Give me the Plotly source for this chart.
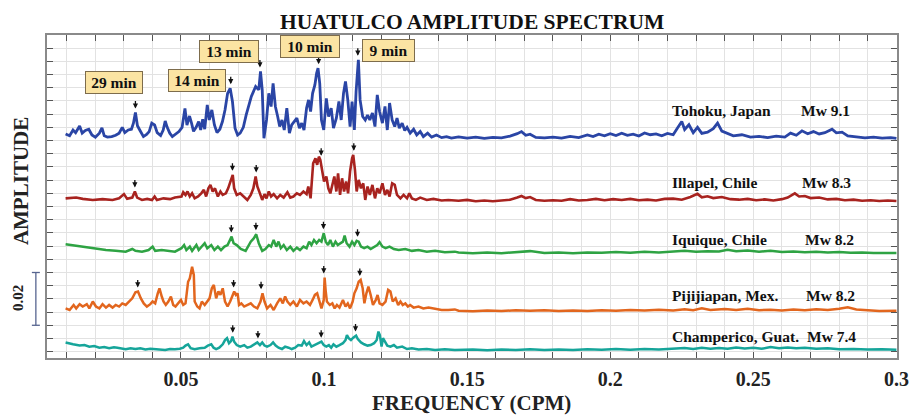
import plotly.graph_objects as go

# Amplitudes are listed in thousandths; each record is stacked on its own offset.
AMP_UNIT = 1e-3

# (frequency in CPM, amplitude x 1e-3)
TOHOKU = [
    (0.0097, 2.5), (0.0111, 1.8), (0.0123, 4.0), (0.0132, 3.0), (0.0146, 5.5), (0.0155, 2.8),
    (0.0166, 3.8), (0.0178, 4.3), (0.0189, 2.1), (0.0201, 1.3), (0.0215, 2.8), (0.0224, 4.8),
    (0.0232, 1.8), (0.0243, 1.3), (0.0258, 1.5), (0.0272, 2.0), (0.0284, 2.8), (0.0295, 5.0),
    (0.0304, 3.0), (0.0316, 4.0), (0.0327, 4.3), (0.0334, 6.6), (0.0341, 10.6), (0.0348, 5.6),
    (0.0357, 3.8), (0.0369, 1.5), (0.0380, 2.3), (0.0389, 3.4), (0.0398, 6.6), (0.0408, 5.9),
    (0.0417, 3.0), (0.0429, 1.9), (0.0438, 4.0), (0.0445, 7.4), (0.0452, 5.0), (0.0461, 2.8),
    (0.0470, 1.5), (0.0481, 2.5), (0.0493, 3.4), (0.0504, 5.0), (0.0514, 12.2), (0.0521, 5.9),
    (0.0530, 9.3), (0.0537, 6.6), (0.0544, 3.5), (0.0553, 5.0), (0.0562, 7.2), (0.0569, 4.0),
    (0.0576, 8.1), (0.0583, 4.3), (0.0592, 13.5), (0.0599, 7.8), (0.0608, 11.6), (0.0617, 5.9),
    (0.0626, 3.0), (0.0636, 4.3), (0.0645, 7.2), (0.0654, 11.6), (0.0663, 17.9), (0.0672, 19.8),
    (0.0680, 14.8), (0.0689, 4.7), (0.0698, 2.1), (0.0707, 2.8), (0.0718, 5.0), (0.0728, 9.7),
    (0.0737, 13.5), (0.0746, 16.7), (0.0761, 20.5), (0.0772, 19.2), (0.0778, 26.2), (0.0784, 19.2),
    (0.0790, 0.9), (0.0799, 7.8), (0.0807, 17.9), (0.0815, 12.9), (0.0822, 21.7), (0.0830, 12.9),
    (0.0838, 9.1), (0.0845, 5.3), (0.0853, 7.8), (0.0861, 4.0), (0.0870, 12.3), (0.0879, 2.8),
    (0.0887, 5.9), (0.0895, 7.2), (0.0905, 8.5), (0.0914, 4.7), (0.0922, 6.6), (0.0930, 4.0),
    (0.0939, 12.3), (0.0946, 15.4), (0.0953, 11.0), (0.0960, 17.9), (0.0968, 21.1), (0.0974, 25.5),
    (0.0979, 27.4), (0.0985, 21.7), (0.0991, 7.8), (0.0999, 4.0), (0.1008, 16.0), (0.1016, 9.1),
    (0.1025, 12.3), (0.1033, 4.7), (0.1043, 8.5), (0.1052, 14.8), (0.1060, 7.8), (0.1068, 17.9),
    (0.1075, 22.4), (0.1083, 15.4), (0.1091, 5.3), (0.1098, 14.8), (0.1106, 4.0), (0.1112, 18.6),
    (0.1120, 30.6), (0.1126, 15.4), (0.1135, 9.1), (0.1144, 7.8), (0.1152, 9.7), (0.1160, 7.8),
    (0.1169, 10.4), (0.1178, 5.3), (0.1186, 17.3), (0.1194, 11.0), (0.1204, 6.6), (0.1213, 12.9),
    (0.1221, 4.0), (0.1229, 14.2), (0.1238, 7.8), (0.1247, 5.3), (0.1255, 8.5), (0.1263, 4.7),
    (0.1273, 6.6), (0.1282, 3.8), (0.1290, 5.0), (0.1301, 2.8), (0.1313, 4.3), (0.1324, 2.1),
    (0.1336, 3.4), (0.1347, 1.5), (0.1362, 2.8), (0.1376, 1.3), (0.1393, 2.1), (0.1411, 1.1),
    (0.1428, 1.5), (0.1445, 0.9), (0.147, 1.4), (0.150, 0.9), (0.153, 1.3), (0.156, 0.8),
    (0.159, 1.2), (0.162, 1.0), (0.165, 1.7), (0.1675, 2.6), (0.169, 3.4), (0.1705, 2.0),
    (0.172, 2.4), (0.174, 1.2), (0.177, 1.0), (0.180, 1.3), (0.183, 0.9), (0.186, 1.6),
    (0.189, 1.1), (0.192, 2.1), (0.194, 1.5), (0.196, 2.4), (0.198, 1.8), (0.200, 2.6),
    (0.202, 1.9), (0.204, 2.8), (0.206, 2.0), (0.208, 2.4), (0.210, 1.7), (0.212, 2.9),
    (0.214, 2.2), (0.216, 2.5), (0.218, 1.8), (0.220, 2.7), (0.222, 2.2), (0.2235, 4.8),
    (0.225, 7.2), (0.226, 4.2), (0.2275, 6.0), (0.229, 3.0), (0.2305, 5.0), (0.232, 2.7),
    (0.234, 3.2), (0.236, 4.5), (0.2375, 6.6), (0.239, 3.6), (0.241, 2.8), (0.243, 1.8),
    (0.246, 2.2), (0.249, 1.3), (0.252, 1.6), (0.255, 1.1), (0.258, 1.7), (0.261, 1.3),
    (0.263, 2.8), (0.265, 2.0), (0.267, 3.7), (0.269, 2.6), (0.271, 3.4), (0.273, 2.5),
    (0.275, 3.0), (0.2775, 4.3), (0.279, 2.9), (0.281, 3.2), (0.283, 1.8), (0.286, 1.3),
    (0.289, 1.0), (0.292, 1.3), (0.295, 0.9), (0.298, 1.1), (0.300, 0.8),
]

ILLAPEL = [
    (0.0097, 2.1), (0.0134, 2.4), (0.0157, 1.9), (0.0192, 1.5), (0.0226, 1.8), (0.0261, 1.5),
    (0.0284, 2.1), (0.0301, 3.7), (0.0312, 1.9), (0.0330, 2.4), (0.0339, 4.7), (0.0347, 2.4),
    (0.0364, 1.5), (0.0382, 1.9), (0.0399, 1.5), (0.0408, 2.8), (0.0416, 1.5), (0.0439, 2.1),
    (0.0462, 1.8), (0.0479, 2.4), (0.0502, 2.8), (0.0508, 4.4), (0.0516, 3.4), (0.0523, 4.7),
    (0.0531, 2.8), (0.0539, 4.0), (0.0548, 2.1), (0.0560, 2.8), (0.0571, 4.0), (0.0580, 5.3),
    (0.0588, 2.8), (0.0596, 5.9), (0.0603, 7.2), (0.0611, 4.7), (0.0619, 5.9), (0.0629, 2.8),
    (0.0638, 4.7), (0.0646, 3.4), (0.0657, 4.0), (0.0665, 5.9), (0.0675, 9.1), (0.0681, 11.0),
    (0.0686, 5.9), (0.0695, 3.4), (0.0707, 4.0), (0.0721, 2.8), (0.0732, 1.5), (0.0744, 3.4),
    (0.0753, 5.9), (0.0761, 10.4), (0.0767, 6.6), (0.0776, 4.0), (0.0784, 1.5), (0.0792, 3.7),
    (0.0799, 2.1), (0.0807, 4.7), (0.0815, 2.8), (0.0824, 3.7), (0.0836, 2.1), (0.0847, 3.4),
    (0.0859, 2.4), (0.0872, 4.4), (0.0882, 2.4), (0.0893, 2.8), (0.0905, 4.0), (0.0916, 3.4),
    (0.0928, 4.7), (0.0939, 3.7), (0.0945, 6.6), (0.0953, 2.1), (0.0957, 8.5), (0.0962, 15.4),
    (0.0970, 17.3), (0.0976, 14.8), (0.0982, 17.9), (0.0987, 16.7), (0.0994, 12.3), (0.1000, 8.5),
    (0.1008, 10.4), (0.1015, 5.9), (0.1022, 4.0), (0.1029, 7.8), (0.1036, 10.4), (0.1043, 4.7),
    (0.1049, 11.6), (0.1056, 3.4), (0.1063, 9.7), (0.1070, 4.7), (0.1077, 8.5), (0.1084, 4.0),
    (0.1091, 12.3), (0.1098, 17.3), (0.1102, 18.6), (0.1108, 12.9), (0.1114, 4.7), (0.1121, 9.1),
    (0.1129, 5.9), (0.1137, 7.8), (0.1144, 1.5), (0.1152, 6.6), (0.1160, 3.4), (0.1169, 7.2),
    (0.1178, 2.1), (0.1186, 5.9), (0.1194, 4.0), (0.1204, 7.8), (0.1213, 3.4), (0.1221, 5.3),
    (0.1229, 2.8), (0.1238, 7.8), (0.1247, 7.2), (0.1255, 3.4), (0.1267, 2.1), (0.1278, 3.4),
    (0.1290, 2.1), (0.1298, 4.0), (0.1307, 2.1), (0.1321, 1.5), (0.1336, 2.4), (0.1359, 1.5),
    (0.1382, 1.9), (0.1411, 1.3), (0.1434, 1.5), (0.147, 1.2), (0.150, 1.5), (0.153, 1.0),
    (0.156, 1.3), (0.159, 1.0), (0.162, 1.4), (0.165, 1.6), (0.1675, 2.4), (0.169, 3.0),
    (0.1705, 2.2), (0.172, 2.6), (0.174, 1.5), (0.177, 1.2), (0.180, 1.4), (0.183, 1.2),
    (0.186, 1.8), (0.189, 1.3), (0.192, 1.5), (0.195, 1.9), (0.198, 1.4), (0.201, 1.8),
    (0.204, 1.5), (0.207, 1.9), (0.210, 1.4), (0.213, 1.6), (0.216, 1.3), (0.219, 1.9),
    (0.222, 2.0), (0.225, 1.6), (0.228, 2.6), (0.2305, 3.8), (0.232, 2.5), (0.234, 2.9),
    (0.236, 2.2), (0.239, 2.6), (0.242, 1.8), (0.245, 1.6), (0.248, 1.9), (0.251, 1.4),
    (0.254, 1.7), (0.257, 1.3), (0.260, 1.8), (0.262, 2.4), (0.2645, 4.0), (0.266, 2.8),
    (0.268, 3.0), (0.270, 2.2), (0.273, 2.4), (0.276, 1.7), (0.279, 1.9), (0.282, 1.4),
    (0.285, 1.6), (0.288, 1.2), (0.291, 1.4), (0.294, 1.1), (0.297, 1.3), (0.300, 1.1),
]

IQUIQUE = [
    (0.0097, 4.7), (0.0134, 4.1), (0.0169, 3.4), (0.0203, 2.9), (0.0238, 2.5), (0.0272, 2.2),
    (0.0307, 1.9), (0.0330, 2.9), (0.0341, 2.2), (0.0364, 1.9), (0.0387, 2.5), (0.0401, 3.8),
    (0.0410, 2.2), (0.0433, 2.5), (0.0456, 2.2), (0.0479, 1.9), (0.0502, 3.2), (0.0511, 4.4),
    (0.0519, 2.5), (0.0531, 3.8), (0.0539, 2.2), (0.0554, 4.4), (0.0562, 2.5), (0.0573, 3.8),
    (0.0583, 5.1), (0.0592, 3.2), (0.0606, 4.4), (0.0617, 2.5), (0.0629, 3.8), (0.0640, 2.5),
    (0.0652, 3.8), (0.0663, 4.4), (0.0672, 6.3), (0.0677, 7.6), (0.0684, 5.1), (0.0695, 4.4),
    (0.0709, 2.9), (0.0726, 2.2), (0.0744, 5.7), (0.0755, 7.0), (0.0763, 8.5), (0.0772, 5.1),
    (0.0784, 2.2), (0.0795, 2.9), (0.0807, 4.4), (0.0815, 3.8), (0.0824, 6.3), (0.0833, 3.8),
    (0.0841, 5.7), (0.0849, 3.2), (0.0859, 4.4), (0.0870, 2.5), (0.0882, 3.8), (0.0893, 2.2),
    (0.0905, 3.4), (0.0916, 2.5), (0.0928, 3.8), (0.0939, 3.2), (0.0948, 5.7), (0.0956, 4.4),
    (0.0965, 6.3), (0.0974, 5.1), (0.0983, 6.3), (0.0991, 5.7), (0.0999, 8.9), (0.1006, 5.7),
    (0.1014, 4.4), (0.1022, 6.3), (0.1031, 3.8), (0.1040, 5.7), (0.1048, 4.4), (0.1056, 5.1),
    (0.1066, 5.7), (0.1072, 8.0), (0.1079, 5.1), (0.1089, 3.8), (0.1098, 5.7), (0.1106, 4.4),
    (0.1114, 6.0), (0.1121, 5.7), (0.1129, 3.8), (0.1140, 3.2), (0.1152, 3.8), (0.1163, 2.9),
    (0.1175, 3.8), (0.1186, 4.4), (0.1194, 5.5), (0.1204, 3.8), (0.1215, 3.2), (0.1229, 3.8),
    (0.1244, 2.9), (0.1261, 2.5), (0.1284, 2.9), (0.1307, 2.2), (0.1330, 2.5), (0.1359, 1.9),
    (0.1388, 2.2), (0.1422, 1.7), (0.1457, 1.9), (0.147, 1.6), (0.152, 1.3), (0.157, 1.6),
    (0.162, 1.3), (0.167, 1.7), (0.172, 2.1), (0.177, 1.4), (0.182, 1.6), (0.187, 1.3),
    (0.192, 1.6), (0.197, 1.5), (0.202, 1.8), (0.207, 1.5), (0.212, 1.9), (0.217, 1.6),
    (0.222, 1.8), (0.226, 2.2), (0.230, 1.9), (0.234, 2.1), (0.238, 2.0), (0.241, 2.6),
    (0.244, 2.1), (0.248, 2.3), (0.252, 1.9), (0.256, 2.2), (0.260, 1.8), (0.264, 2.0),
    (0.268, 1.7), (0.272, 1.9), (0.276, 1.6), (0.280, 1.8), (0.284, 1.5), (0.288, 1.6),
    (0.292, 1.4), (0.296, 1.5), (0.300, 1.4),
]

PIJIJIAPAN = [
    (0.0097, 2.4), (0.0111, 1.8), (0.0125, 3.7), (0.0134, 2.4), (0.0146, 4.0), (0.0157, 3.1),
    (0.0171, 4.0), (0.0180, 2.4), (0.0192, 5.0), (0.0203, 3.1), (0.0215, 2.4), (0.0226, 4.0),
    (0.0238, 2.7), (0.0249, 3.7), (0.0261, 2.7), (0.0272, 3.7), (0.0284, 3.1), (0.0295, 4.3),
    (0.0307, 3.7), (0.0318, 5.0), (0.0330, 6.2), (0.0341, 8.5), (0.0350, 8.8), (0.0360, 6.2),
    (0.0370, 4.3), (0.0381, 3.1), (0.0393, 4.0), (0.0401, 5.0), (0.0410, 4.3), (0.0419, 8.1),
    (0.0425, 10.0), (0.0433, 6.9), (0.0439, 5.0), (0.0447, 3.7), (0.0456, 5.0), (0.0465, 6.9),
    (0.0473, 3.7), (0.0481, 3.1), (0.0491, 4.3), (0.0500, 5.6), (0.0508, 3.7), (0.0516, 4.3),
    (0.0525, 12.5), (0.0531, 13.8), (0.0539, 18.2), (0.0545, 15.1), (0.0548, 5.0), (0.0557, 3.1),
    (0.0565, 2.4), (0.0573, 5.0), (0.0583, 3.7), (0.0592, 5.0), (0.0600, 6.2), (0.0608, 10.0),
    (0.0615, 11.3), (0.0623, 6.2), (0.0631, 8.8), (0.0638, 7.5), (0.0646, 10.0), (0.0654, 5.0),
    (0.0663, 3.1), (0.0672, 5.0), (0.0680, 7.5), (0.0686, 8.8), (0.0692, 7.5), (0.0698, 8.1),
    (0.0703, 3.7), (0.0711, 4.3), (0.0721, 3.1), (0.0732, 3.7), (0.0744, 4.3), (0.0755, 3.1),
    (0.0767, 2.4), (0.0778, 5.0), (0.0785, 8.1), (0.0792, 5.0), (0.0801, 2.4), (0.0813, 3.7),
    (0.0824, 1.8), (0.0836, 4.3), (0.0847, 6.2), (0.0856, 4.3), (0.0864, 6.9), (0.0872, 5.0),
    (0.0882, 3.7), (0.0893, 5.0), (0.0905, 3.1), (0.0916, 5.6), (0.0928, 4.3), (0.0939, 5.0),
    (0.0951, 3.7), (0.0960, 5.6), (0.0968, 7.5), (0.0976, 8.1), (0.0983, 5.0), (0.0991, 2.4),
    (0.0999, 5.6), (0.1002, 14.1), (0.1006, 8.8), (0.1010, 5.0), (0.1020, 3.7), (0.1029, 4.3),
    (0.1037, 2.4), (0.1045, 3.7), (0.1054, 2.7), (0.1066, 5.6), (0.1075, 3.1), (0.1083, 4.3),
    (0.1091, 2.4), (0.1100, 5.0), (0.1106, 8.1), (0.1114, 10.0), (0.1121, 12.5), (0.1128, 13.2),
    (0.1135, 10.0), (0.1141, 4.3), (0.1148, 8.1), (0.1155, 10.7), (0.1163, 7.5), (0.1171, 3.7),
    (0.1181, 5.6), (0.1187, 7.5), (0.1194, 4.3), (0.1204, 3.7), (0.1215, 5.0), (0.1224, 9.4),
    (0.1232, 8.8), (0.1240, 5.0), (0.1250, 6.2), (0.1259, 3.7), (0.1267, 5.0), (0.1275, 3.7),
    (0.1284, 4.3), (0.1293, 3.1), (0.1301, 3.7), (0.1313, 2.7), (0.1330, 3.1), (0.1347, 2.4),
    (0.1365, 2.7), (0.1388, 2.2), (0.1411, 1.8), (0.1434, 1.8), (0.1457, 2.0), (0.147, 1.5),
    (0.152, 1.3), (0.157, 1.6), (0.162, 1.4), (0.167, 1.7), (0.172, 1.5), (0.177, 1.7),
    (0.182, 1.4), (0.187, 1.6), (0.192, 1.4), (0.197, 1.7), (0.202, 1.5), (0.207, 1.8),
    (0.212, 1.6), (0.217, 1.9), (0.222, 1.6), (0.226, 2.1), (0.229, 1.7), (0.232, 2.4),
    (0.235, 1.8), (0.240, 2.2), (0.244, 1.8), (0.248, 2.3), (0.252, 1.7), (0.256, 1.9),
    (0.260, 1.6), (0.264, 2.0), (0.268, 1.7), (0.272, 2.1), (0.276, 1.8), (0.280, 2.3),
    (0.283, 2.8), (0.286, 2.0), (0.290, 1.6), (0.294, 1.4), (0.300, 1.5),
]

CHAMPERICO = [
    (0.0097, 3.5), (0.0105, 3.2), (0.0123, 2.8), (0.0146, 2.3), (0.0163, 2.5), (0.0180, 1.9),
    (0.0197, 2.1), (0.0215, 1.5), (0.0232, 1.8), (0.0249, 1.3), (0.0266, 1.7), (0.0278, 1.5),
    (0.0295, 1.1), (0.0307, 0.9), (0.0324, 1.3), (0.0341, 1.0), (0.0358, 1.3), (0.0376, 0.8),
    (0.0393, 1.1), (0.0410, 1.0), (0.0427, 0.8), (0.0445, 0.6), (0.0462, 1.0), (0.0479, 0.9),
    (0.0496, 1.1), (0.0508, 1.5), (0.0516, 2.3), (0.0525, 2.8), (0.0534, 1.3), (0.0548, 0.9),
    (0.0565, 1.3), (0.0583, 1.5), (0.0594, 2.3), (0.0606, 2.8), (0.0614, 1.5), (0.0623, 1.0),
    (0.0634, 1.5), (0.0646, 2.8), (0.0654, 4.4), (0.0661, 5.1), (0.0668, 3.2), (0.0675, 4.0),
    (0.0680, 5.7), (0.0686, 3.8), (0.0695, 2.5), (0.0707, 1.9), (0.0721, 2.5), (0.0732, 1.5),
    (0.0744, 1.9), (0.0755, 2.8), (0.0767, 3.5), (0.0776, 2.5), (0.0784, 3.5), (0.0792, 2.3),
    (0.0801, 1.9), (0.0813, 2.5), (0.0822, 3.5), (0.0831, 2.3), (0.0841, 1.5), (0.0853, 1.0),
    (0.0864, 1.9), (0.0876, 1.5), (0.0887, 1.0), (0.0899, 1.5), (0.0910, 2.5), (0.0922, 2.3),
    (0.0930, 4.0), (0.0939, 2.5), (0.0948, 3.5), (0.0956, 1.9), (0.0968, 2.5), (0.0976, 3.2),
    (0.0985, 3.5), (0.0991, 3.8), (0.0999, 2.5), (0.1008, 1.9), (0.1017, 2.5), (0.1025, 1.5),
    (0.1033, 2.8), (0.1043, 1.9), (0.1054, 2.5), (0.1066, 3.2), (0.1075, 4.4), (0.1080, 6.3),
    (0.1086, 5.1), (0.1094, 4.4), (0.1102, 5.3), (0.1112, 6.1), (0.1118, 4.8), (0.1129, 3.5),
    (0.1140, 2.8), (0.1152, 2.3), (0.1163, 2.5), (0.1175, 3.2), (0.1184, 4.4), (0.1190, 7.6),
    (0.1195, 6.3), (0.1201, 1.9), (0.1206, 5.1), (0.1213, 3.8), (0.1221, 2.3), (0.1232, 1.9),
    (0.1244, 2.5), (0.1255, 1.5), (0.1273, 1.9), (0.1290, 1.0), (0.1307, 1.3), (0.1330, 0.8),
    (0.1359, 1.0), (0.1388, 0.6), (0.1422, 0.9), (0.1457, 0.6), (0.147, 0.6), (0.152, 0.8),
    (0.157, 0.5), (0.162, 0.8), (0.167, 0.6), (0.172, 0.9), (0.177, 0.6), (0.182, 0.8),
    (0.187, 0.6), (0.192, 0.9), (0.197, 0.7), (0.202, 1.0), (0.207, 0.7), (0.212, 1.0),
    (0.217, 0.8), (0.222, 1.1), (0.226, 1.4), (0.229, 1.0), (0.232, 1.5), (0.235, 1.1),
    (0.238, 1.4), (0.241, 1.1), (0.244, 1.6), (0.247, 1.2), (0.250, 1.5), (0.253, 1.1),
    (0.256, 1.8), (0.259, 1.3), (0.262, 1.6), (0.265, 1.3), (0.268, 1.5), (0.272, 1.1),
    (0.276, 1.3), (0.280, 0.9), (0.285, 1.0), (0.290, 0.8), (0.295, 0.9), (0.300, 0.7),
]

# Frequencies of the marked spectral peaks for each record
TOHOKU_MARKS = [0.0341, 0.0674, 0.0776, 0.0981, 0.1118]
ILLAPEL_MARKS = [0.0339, 0.0680, 0.0763, 0.0990, 0.1104]
IQUIQUE_MARKS = [0.0676, 0.0762, 0.0998, 0.1117]
PIJIJIAPAN_MARKS = [0.0349, 0.0684, 0.0780, 0.0999, 0.1125]
CHAMPERICO_MARKS = [0.0681, 0.0769, 0.0990, 0.1110]

EVENTS = ["Tohoku, Japan", "Illapel, Chile", "Iquique, Chile", "Pijijiapan, Mex.", "Champerico, Guat."]
MAGNITUDES = ["Mw 9.1", "Mw 8.3", "Mw 8.2", "Mw 8.2", "Mw 7.4"]
PERIODS = ["29 min", "14 min", "13 min", "10 min", "9 min"]

TICK_VALUES = [0.05, 0.1, 0.15, 0.2, 0.25, 0.3]
TICK_TEXT = ["0.05", "0.1", "0.15", "0.2", "0.25", "0.3"]

# ---------------------------------------------------------------- styling
SERIF = "Liberation Serif, Times New Roman, serif"
COLORS = ["#2a45a5", "#a8231f", "#2ea343", "#e2661e", "#16a59a"]
STACK = [80, 56, 36, 14, 0]          # vertical offsets, x 1e-3
WIDTHS = [2.8, 2.6, 2.5, 2.5, 2.5]
X_RANGE = [0.0032, 0.3002]
Y_RANGE = [-0.0024, 0.1200]

records = [TOHOKU, ILLAPEL, IQUIQUE, PIJIJIAPAN, CHAMPERICO]
marks = [TOHOKU_MARKS, ILLAPEL_MARKS, IQUIQUE_MARKS, PIJIJIAPAN_MARKS, CHAMPERICO_MARKS]

fig = go.Figure()
annotations = []


def local_peak(pts, f0, half=0.0008):
    near = [(f, a) for f, a in pts if abs(f - f0) <= half]
    return max(near, key=lambda p: p[1])


for pts, off, color, width, peaks in zip(records, STACK, COLORS, WIDTHS, marks):
    xs = [f for f, _ in pts]
    ys = [(off + a) * AMP_UNIT for _, a in pts]
    fig.add_trace(go.Scatter(x=xs, y=ys, mode="lines",
                             line=dict(color=color, width=width, shape="linear"),
                             hoverinfo="skip", showlegend=False))
    for f0 in peaks:
        _, a = local_peak(pts, f0)
        annotations.append(dict(
            x=f0, y=(off + a) * AMP_UNIT, xref="x", yref="y", text="",
            showarrow=True, arrowhead=2, arrowsize=0.8, arrowwidth=1.3,
            arrowcolor="#111111", ax=0, ay=-13, standoff=4))

# period boxes
period_pos = [(0.0266, 0.1019, 54), (0.0555, 0.1027, 54), (0.0669, 0.1137, 56),
              (0.0952, 0.1155, 56), (0.1226, 0.1143, 49)]
for label, (x, y, w) in zip(PERIODS, period_pos):
    annotations.append(dict(
        x=x, y=y, xref="x", yref="y", text=label, showarrow=False,
        font=dict(family=SERIF, size=15.5, color="#111111", weight="bold"),
        bgcolor="#fbe4a3", bordercolor="#7d6c4c", borderwidth=1, borderpad=1,
        width=w, height=19, xanchor="center", yanchor="middle"))

# event names and magnitudes
name_y = [0.7678, 0.5440, 0.3675, 0.1950, 0.0659]
mw_x = [0.8852, 0.8864, 0.8892, 0.8903, 0.8919]
for name, mw, y, xm in zip(EVENTS, MAGNITUDES, name_y, mw_x):
    for txt, x in ((name, 0.7326), (mw, xm)):
        annotations.append(dict(
            x=x, y=y, xref="paper", yref="paper", text=txt, showarrow=False,
            xanchor="left", yanchor="middle",
            font=dict(family=SERIF, size=15.5, color="#111111", weight="bold")))

# titles
annotations += [
    dict(x=0.5, y=1.0402, xref="paper", yref="paper", text="HUATULCO AMPLITUDE SPECTRUM",
         showarrow=False, xanchor="center", yanchor="middle",
         font=dict(family=SERIF, size=21.5, color="#111111", weight="bold")),
    dict(x=0.4997, y=-0.1378, xref="paper", yref="paper", text="FREQUENCY (CPM)",
         showarrow=False, xanchor="center", yanchor="middle",
         font=dict(family=SERIF, size=21, color="#222222", weight="bold")),
    dict(x=-0.0314, y=0.5486, xref="paper", yref="paper", text="AMPLITUDE", textangle=-90,
         showarrow=False, xanchor="center", yanchor="middle",
         font=dict(family=SERIF, size=21, color="#222222", weight="bold")),
    dict(x=-0.0334, y=0.1848, xref="paper", yref="paper", text="0.02", textangle=-90,
         showarrow=False, xanchor="center", yanchor="middle",
         font=dict(family=SERIF, size=15, color="#222222", weight="bold")),
]

# 0.02 amplitude scale bar beside the axis
def y_paper(v):
    return (v - Y_RANGE[0]) / (Y_RANGE[1] - Y_RANGE[0])

bar_lo, bar_hi = y_paper(0.010), y_paper(0.030)
bar_color = "#56648f"
shapes = [
    dict(type="line", xref="paper", yref="paper", x0=-0.0131, x1=-0.0131, y0=bar_lo, y1=bar_hi,
         line=dict(color=bar_color, width=1.3)),
    dict(type="line", xref="paper", yref="paper", x0=-0.0178, x1=-0.0084, y0=bar_lo, y1=bar_lo,
         line=dict(color=bar_color, width=1.3)),
    dict(type="line", xref="paper", yref="paper", x0=-0.0178, x1=-0.0084, y0=bar_hi, y1=bar_hi,
         line=dict(color=bar_color, width=1.3)),
]

axis_common = dict(showline=True, linecolor="#8a8a8a", linewidth=1.5, mirror="ticks",
                   ticks="inside", ticklen=6, tickcolor="#555555", tickwidth=1,
                   showgrid=True, gridcolor="#e2e2e2", gridwidth=1, zeroline=False)

fig.update_layout(
    width=921, height=415,
    margin=dict(l=47, r=14, t=35, b=57),
    paper_bgcolor="white", plot_bgcolor="white",
    xaxis=dict(range=X_RANGE, tickvals=TICK_VALUES, ticktext=TICK_TEXT,
               tickfont=dict(family=SERIF, size=20, color="#222222", weight="bold"),
               ticklabelstandoff=2,
               minor=dict(dtick=0.01, tick0=0, ticks="inside", ticklen=6, tickcolor="#555555",
                          showgrid=True, gridcolor="#e2e2e2"),
               **axis_common),
    yaxis=dict(range=Y_RANGE, dtick=0.005, tick0=0, showticklabels=False, **axis_common),
    annotations=annotations,
    shapes=shapes,
)

fig.write_html("out.html")
